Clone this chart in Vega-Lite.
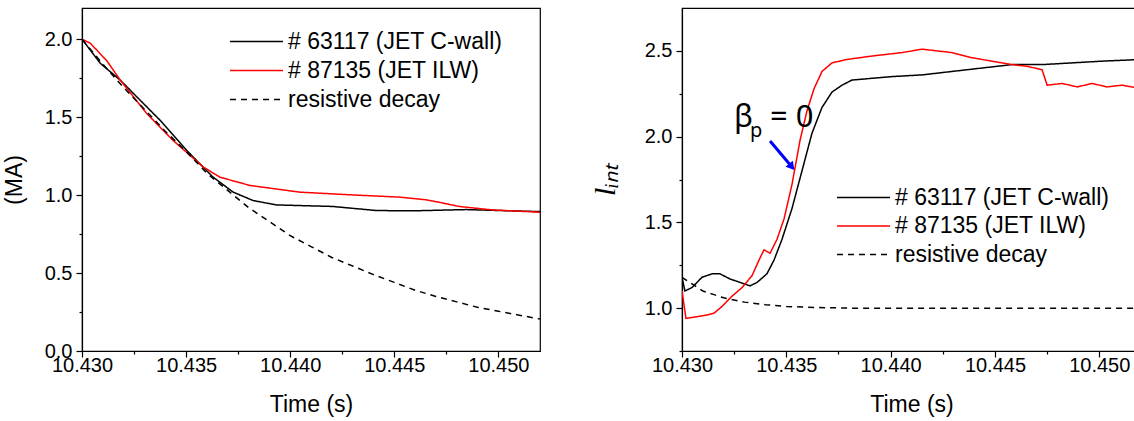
{
  "$schema": "https://vega.github.io/schema/vega-lite/v6.json",
  "padding": {"left": 2, "top": 7, "right": 0, "bottom": 0},
  "background": "white",
  "spacing": 48,
  "config": {
    "view": {"stroke": "black", "strokeWidth": 1.2},
    "axis": {
      "grid": false,
      "domainColor": "black",
      "domainWidth": 1.2,
      "tickColor": "black",
      "tickWidth": 1.2,
      "labelFont": "Liberation Sans",
      "labelFontSize": 20,
      "labelColor": "black",
      "titleFont": "Liberation Sans",
      "titleFontSize": 23,
      "titleFontWeight": "normal",
      "titleColor": "black",
      "labelOverlap": false,
      "labelBound": false,
      "labelFlush": false
    },
    "legend": {
      "orient": "none",
      "title": null,
      "symbolType": "M-5.3,0H5.3",
      "symbolSize": 100,
      "symbolStrokeWidth": 1.5,
      "labelFont": "Liberation Sans",
      "labelFontSize": 23,
      "labelColor": "black",
      "labelLimit": 0,
      "rowPadding": 5,
      "labelOffset": 20
    }
  },
  "datasets": {
    "current": [
      {"series": "# 63117 (JET C-wall)", "t": 10.4300, "v": 2.0},
      {"series": "# 63117 (JET C-wall)", "t": 10.43088, "v": 1.845},
      {"series": "# 63117 (JET C-wall)", "t": 10.43184, "v": 1.737},
      {"series": "# 63117 (JET C-wall)", "t": 10.43247, "v": 1.652},
      {"series": "# 63117 (JET C-wall)", "t": 10.43375, "v": 1.48},
      {"series": "# 63117 (JET C-wall)", "t": 10.43503, "v": 1.287},
      {"series": "# 63117 (JET C-wall)", "t": 10.43581, "v": 1.18},
      {"series": "# 63117 (JET C-wall)", "t": 10.4363, "v": 1.115},
      {"series": "# 63117 (JET C-wall)", "t": 10.43726, "v": 1.019},
      {"series": "# 63117 (JET C-wall)", "t": 10.43822, "v": 0.965},
      {"series": "# 63117 (JET C-wall)", "t": 10.43934, "v": 0.937},
      {"series": "# 63117 (JET C-wall)", "t": 10.44205, "v": 0.927},
      {"series": "# 63117 (JET C-wall)", "t": 10.44413, "v": 0.901},
      {"series": "# 63117 (JET C-wall)", "t": 10.44588, "v": 0.899},
      {"series": "# 63117 (JET C-wall)", "t": 10.44844, "v": 0.907},
      {"series": "# 63117 (JET C-wall)", "t": 10.452, "v": 0.894},
      {"series": "# 87135 (JET ILW)", "t": 10.4300, "v": 2.0},
      {"series": "# 87135 (JET ILW)", "t": 10.4304, "v": 1.974},
      {"series": "# 87135 (JET ILW)", "t": 10.4312, "v": 1.86},
      {"series": "# 87135 (JET ILW)", "t": 10.43184, "v": 1.737},
      {"series": "# 87135 (JET ILW)", "t": 10.43311, "v": 1.523},
      {"series": "# 87135 (JET ILW)", "t": 10.43437, "v": 1.351},
      {"series": "# 87135 (JET ILW)", "t": 10.43583, "v": 1.18},
      {"series": "# 87135 (JET ILW)", "t": 10.43662, "v": 1.115},
      {"series": "# 87135 (JET ILW)", "t": 10.43806, "v": 1.062},
      {"series": "# 87135 (JET ILW)", "t": 10.44045, "v": 1.019},
      {"series": "# 87135 (JET ILW)", "t": 10.44285, "v": 1.002},
      {"series": "# 87135 (JET ILW)", "t": 10.44525, "v": 0.987},
      {"series": "# 87135 (JET ILW)", "t": 10.44652, "v": 0.970},
      {"series": "# 87135 (JET ILW)", "t": 10.44716, "v": 0.954},
      {"series": "# 87135 (JET ILW)", "t": 10.44812, "v": 0.927},
      {"series": "# 87135 (JET ILW)", "t": 10.4497, "v": 0.905},
      {"series": "# 87135 (JET ILW)", "t": 10.452, "v": 0.89},
      {"series": "resistive decay", "t": 10.430, "v": 2.0},
      {"series": "resistive decay", "t": 10.431, "v": 1.84},
      {"series": "resistive decay", "t": 10.432, "v": 1.69},
      {"series": "resistive decay", "t": 10.433, "v": 1.55},
      {"series": "resistive decay", "t": 10.434, "v": 1.41},
      {"series": "resistive decay", "t": 10.435, "v": 1.28},
      {"series": "resistive decay", "t": 10.436, "v": 1.14},
      {"series": "resistive decay", "t": 10.437, "v": 1.03},
      {"series": "resistive decay", "t": 10.438, "v": 0.92},
      {"series": "resistive decay", "t": 10.439, "v": 0.83},
      {"series": "resistive decay", "t": 10.440, "v": 0.74},
      {"series": "resistive decay", "t": 10.441, "v": 0.67},
      {"series": "resistive decay", "t": 10.442, "v": 0.60},
      {"series": "resistive decay", "t": 10.443, "v": 0.545},
      {"series": "resistive decay", "t": 10.444, "v": 0.49},
      {"series": "resistive decay", "t": 10.445, "v": 0.44},
      {"series": "resistive decay", "t": 10.446, "v": 0.39},
      {"series": "resistive decay", "t": 10.447, "v": 0.35},
      {"series": "resistive decay", "t": 10.448, "v": 0.315},
      {"series": "resistive decay", "t": 10.449, "v": 0.28},
      {"series": "resistive decay", "t": 10.450, "v": 0.255},
      {"series": "resistive decay", "t": 10.451, "v": 0.23},
      {"series": "resistive decay", "t": 10.452, "v": 0.205}
    ],
    "lint": [
      {"series": "# 63117 (JET C-wall)", "t": 10.4300, "v": 1.18},
      {"series": "# 63117 (JET C-wall)", "t": 10.43014, "v": 1.10},
      {"series": "# 63117 (JET C-wall)", "t": 10.43048, "v": 1.12},
      {"series": "# 63117 (JET C-wall)", "t": 10.43096, "v": 1.18},
      {"series": "# 63117 (JET C-wall)", "t": 10.43144, "v": 1.20},
      {"series": "# 63117 (JET C-wall)", "t": 10.43182, "v": 1.20},
      {"series": "# 63117 (JET C-wall)", "t": 10.4323, "v": 1.17},
      {"series": "# 63117 (JET C-wall)", "t": 10.43278, "v": 1.15},
      {"series": "# 63117 (JET C-wall)", "t": 10.43326, "v": 1.13},
      {"series": "# 63117 (JET C-wall)", "t": 10.4336, "v": 1.15},
      {"series": "# 63117 (JET C-wall)", "t": 10.43407, "v": 1.20},
      {"series": "# 63117 (JET C-wall)", "t": 10.43441, "v": 1.28},
      {"series": "# 63117 (JET C-wall)", "t": 10.43479, "v": 1.40},
      {"series": "# 63117 (JET C-wall)", "t": 10.43527, "v": 1.58},
      {"series": "# 63117 (JET C-wall)", "t": 10.43575, "v": 1.80},
      {"series": "# 63117 (JET C-wall)", "t": 10.43623, "v": 2.02},
      {"series": "# 63117 (JET C-wall)", "t": 10.43671, "v": 2.17},
      {"series": "# 63117 (JET C-wall)", "t": 10.43719, "v": 2.26},
      {"series": "# 63117 (JET C-wall)", "t": 10.43767, "v": 2.30},
      {"series": "# 63117 (JET C-wall)", "t": 10.43815, "v": 2.33},
      {"series": "# 63117 (JET C-wall)", "t": 10.43911, "v": 2.34},
      {"series": "# 63117 (JET C-wall)", "t": 10.44007, "v": 2.35},
      {"series": "# 63117 (JET C-wall)", "t": 10.44151, "v": 2.36},
      {"series": "# 63117 (JET C-wall)", "t": 10.44294, "v": 2.38},
      {"series": "# 63117 (JET C-wall)", "t": 10.44438, "v": 2.40},
      {"series": "# 63117 (JET C-wall)", "t": 10.44582, "v": 2.42},
      {"series": "# 63117 (JET C-wall)", "t": 10.44726, "v": 2.42},
      {"series": "# 63117 (JET C-wall)", "t": 10.4487, "v": 2.43},
      {"series": "# 63117 (JET C-wall)", "t": 10.45013, "v": 2.44},
      {"series": "# 63117 (JET C-wall)", "t": 10.452, "v": 2.45},
      {"series": "# 87135 (JET ILW)", "t": 10.4300, "v": 1.10},
      {"series": "# 87135 (JET ILW)", "t": 10.43019, "v": 0.94},
      {"series": "# 87135 (JET ILW)", "t": 10.43072, "v": 0.95},
      {"series": "# 87135 (JET ILW)", "t": 10.4312, "v": 0.96},
      {"series": "# 87135 (JET ILW)", "t": 10.43153, "v": 0.97},
      {"series": "# 87135 (JET ILW)", "t": 10.43192, "v": 1.01},
      {"series": "# 87135 (JET ILW)", "t": 10.4324, "v": 1.07},
      {"series": "# 87135 (JET ILW)", "t": 10.43288, "v": 1.12},
      {"series": "# 87135 (JET ILW)", "t": 10.43336, "v": 1.19},
      {"series": "# 87135 (JET ILW)", "t": 10.43369, "v": 1.28},
      {"series": "# 87135 (JET ILW)", "t": 10.43393, "v": 1.34},
      {"series": "# 87135 (JET ILW)", "t": 10.43422, "v": 1.32},
      {"series": "# 87135 (JET ILW)", "t": 10.43455, "v": 1.40},
      {"series": "# 87135 (JET ILW)", "t": 10.43489, "v": 1.52},
      {"series": "# 87135 (JET ILW)", "t": 10.43527, "v": 1.72},
      {"series": "# 87135 (JET ILW)", "t": 10.43566, "v": 1.98},
      {"series": "# 87135 (JET ILW)", "t": 10.43599, "v": 2.15},
      {"series": "# 87135 (JET ILW)", "t": 10.43633, "v": 2.28},
      {"series": "# 87135 (JET ILW)", "t": 10.43671, "v": 2.38},
      {"series": "# 87135 (JET ILW)", "t": 10.43719, "v": 2.43},
      {"series": "# 87135 (JET ILW)", "t": 10.43791, "v": 2.45},
      {"series": "# 87135 (JET ILW)", "t": 10.43911, "v": 2.47},
      {"series": "# 87135 (JET ILW)", "t": 10.44055, "v": 2.49},
      {"series": "# 87135 (JET ILW)", "t": 10.44151, "v": 2.51},
      {"series": "# 87135 (JET ILW)", "t": 10.44222, "v": 2.50},
      {"series": "# 87135 (JET ILW)", "t": 10.44294, "v": 2.49},
      {"series": "# 87135 (JET ILW)", "t": 10.4439, "v": 2.46},
      {"series": "# 87135 (JET ILW)", "t": 10.44486, "v": 2.44},
      {"series": "# 87135 (JET ILW)", "t": 10.44582, "v": 2.42},
      {"series": "# 87135 (JET ILW)", "t": 10.44654, "v": 2.41},
      {"series": "# 87135 (JET ILW)", "t": 10.44726, "v": 2.39},
      {"series": "# 87135 (JET ILW)", "t": 10.4475, "v": 2.30},
      {"series": "# 87135 (JET ILW)", "t": 10.44822, "v": 2.31},
      {"series": "# 87135 (JET ILW)", "t": 10.44894, "v": 2.29},
      {"series": "# 87135 (JET ILW)", "t": 10.44966, "v": 2.31},
      {"series": "# 87135 (JET ILW)", "t": 10.45037, "v": 2.29},
      {"series": "# 87135 (JET ILW)", "t": 10.45109, "v": 2.30},
      {"series": "# 87135 (JET ILW)", "t": 10.452, "v": 2.28},
      {"series": "resistive decay", "t": 10.430, "v": 1.18},
      {"series": "resistive decay", "t": 10.4305, "v": 1.14},
      {"series": "resistive decay", "t": 10.431, "v": 1.10},
      {"series": "resistive decay", "t": 10.4315, "v": 1.08},
      {"series": "resistive decay", "t": 10.432, "v": 1.06},
      {"series": "resistive decay", "t": 10.433, "v": 1.035},
      {"series": "resistive decay", "t": 10.434, "v": 1.02},
      {"series": "resistive decay", "t": 10.435, "v": 1.01},
      {"series": "resistive decay", "t": 10.436, "v": 1.005},
      {"series": "resistive decay", "t": 10.438, "v": 1.0},
      {"series": "resistive decay", "t": 10.452, "v": 1.0}
    ],
    "labels": [
      {"text": "β", "t": 10.43295, "v": 2.056, "kind": "big"},
      {"text": "p", "t": 10.43355, "v": 1.997, "kind": "sub"},
      {"text": "= 0", "t": 10.43422, "v": 2.056, "kind": "eq"}
    ],
    "arrow": [
      {"t": 10.43422, "v": 1.974, "t2": 10.43515, "v2": 1.84}
    ],
    "arrowhead": [
      {"t": 10.43522, "v": 1.83}
    ]
  },
  "resolve": {
    "scale": {"color": "independent", "strokeDash": "independent"},
    "legend": {"color": "independent", "strokeDash": "independent"}
  },
  "hconcat": [
    {
      "width": 458,
      "height": 343,
      "data": {"name": "current"},
      "mark": {"type": "line", "strokeWidth": 1.5, "clip": true},
      "encoding": {
        "x": {
          "field": "t", "type": "quantitative", "title": "Time (s)",
          "scale": {"domain": [10.430, 10.452], "nice": false, "zero": false},
          "axis": {
            "values": [10.430, 10.4325, 10.435, 10.4375, 10.440, 10.4425, 10.445, 10.4475, 10.450],
            "labelExpr": "round(datum.value*2000)%2==1 ? '' : format(datum.value, '.3f')",
            "tickSize": {"condition": {"test": "round(datum.value*2000)%2==1", "value": 3}, "value": 6},
            "labelPadding": -2,
            "titlePadding": 18
          }
        },
        "y": {
          "field": "v", "type": "quantitative", "title": "(MA)",
          "scale": {"domain": [0, 2.2], "nice": false},
          "axis": {
            "values": [0, 0.25, 0.5, 0.75, 1.0, 1.25, 1.5, 1.75, 2.0],
            "labelExpr": "round(datum.value*4)%2==1 ? '' : format(datum.value, '.1f')",
            "tickSize": {"condition": {"test": "round(datum.value*4)%2==1", "value": 3}, "value": 6},
            "labelPadding": 4,
            "titlePadding": 18
          }
        },
        "color": {
          "field": "series", "type": "nominal",
          "scale": {"domain": ["# 63117 (JET C-wall)", "# 87135 (JET ILW)", "resistive decay"], "range": ["black", "red", "black"]},
          "legend": {"legendX": 163, "legendY": 22}
        },
        "strokeDash": {
          "field": "series", "type": "nominal",
          "scale": {"domain": ["# 63117 (JET C-wall)", "# 87135 (JET ILW)", "resistive decay"], "range": [[1, 0], [1, 0], [6, 5]]},
          "legend": {"legendX": 163, "legendY": 22}
        }
      }
    },
    {
      "width": 459,
      "height": 343,
      "layer": [
        {
          "data": {"name": "lint"},
          "mark": {"type": "line", "strokeWidth": 1.5, "clip": true},
          "encoding": {
            "x": {
              "field": "t", "type": "quantitative", "title": "Time (s)",
              "scale": {"domain": [10.430, 10.452], "nice": false, "zero": false},
              "axis": {
                "values": [10.430, 10.4325, 10.435, 10.4375, 10.440, 10.4425, 10.445, 10.4475, 10.450],
                "labelExpr": "round(datum.value*2000)%2==1 ? '' : format(datum.value, '.3f')",
                "tickSize": {"condition": {"test": "round(datum.value*2000)%2==1", "value": 3}, "value": 6},
                "labelPadding": -2,
                "titlePadding": 18
              }
            },
            "y": {
              "field": "v", "type": "quantitative", "title": "lᵢₙₜ",
              "scale": {"domain": [0.75, 2.75], "nice": false, "zero": false},
              "axis": {
                "values": [0.75, 1.0, 1.25, 1.5, 1.75, 2.0, 2.25, 2.5],
                "labelExpr": "round(datum.value*4)%2==1 ? '' : format(datum.value, '.1f')",
                "tickSize": {"condition": {"test": "round(datum.value*4)%2==1", "value": 3}, "value": 6},
                "labelPadding": 4,
                "titlePadding": 24,
                "titleFont": "Liberation Serif",
                "titleFontStyle": "italic",
                "titleFontSize": 30
              }
            },
            "color": {
              "field": "series", "type": "nominal",
              "scale": {"domain": ["# 63117 (JET C-wall)", "# 87135 (JET ILW)", "resistive decay"], "range": ["black", "red", "black"]},
              "legend": {"legendX": 170, "legendY": 178, "rowPadding": 4.5}
            },
            "strokeDash": {
              "field": "series", "type": "nominal",
              "scale": {"domain": ["# 63117 (JET C-wall)", "# 87135 (JET ILW)", "resistive decay"], "range": [[1, 0], [1, 0], [6, 5]]},
              "legend": {"legendX": 170, "legendY": 178, "rowPadding": 4.5}
            }
          }
        },
        {
          "data": {"name": "arrow"},
          "mark": {"type": "rule", "color": "blue", "strokeWidth": 3},
          "encoding": {
            "x": {"field": "t", "type": "quantitative"},
            "y": {"field": "v", "type": "quantitative"},
            "x2": {"field": "t2"},
            "y2": {"field": "v2"}
          }
        },
        {
          "data": {"name": "arrowhead"},
          "mark": {"type": "point", "shape": "triangle", "filled": true, "color": "blue", "size": 90, "angle": 140, "opacity": 1},
          "encoding": {
            "x": {"field": "t", "type": "quantitative"},
            "y": {"field": "v", "type": "quantitative"}
          }
        },
        {
          "data": {"name": "labels"},
          "transform": [{"filter": "datum.kind == 'big'"}],
          "mark": {"type": "text", "font": "Noto Sans", "fontSize": 31, "align": "center", "baseline": "alphabetic", "color": "black"},
          "encoding": {
            "x": {"field": "t", "type": "quantitative"},
            "y": {"field": "v", "type": "quantitative"},
            "text": {"field": "text"}
          }
        },
        {
          "data": {"name": "labels"},
          "transform": [{"filter": "datum.kind == 'sub'"}],
          "mark": {"type": "text", "font": "Noto Sans", "fontSize": 20, "align": "center", "baseline": "alphabetic", "color": "black"},
          "encoding": {
            "x": {"field": "t", "type": "quantitative"},
            "y": {"field": "v", "type": "quantitative"},
            "text": {"field": "text"}
          }
        },
        {
          "data": {"name": "labels"},
          "transform": [{"filter": "datum.kind == 'eq'"}],
          "mark": {"type": "text", "font": "Noto Sans", "fontSize": 31, "align": "left", "baseline": "alphabetic", "color": "black"},
          "encoding": {
            "x": {"field": "t", "type": "quantitative"},
            "y": {"field": "v", "type": "quantitative"},
            "text": {"field": "text"}
          }
        }
      ]
    }
  ]
}
